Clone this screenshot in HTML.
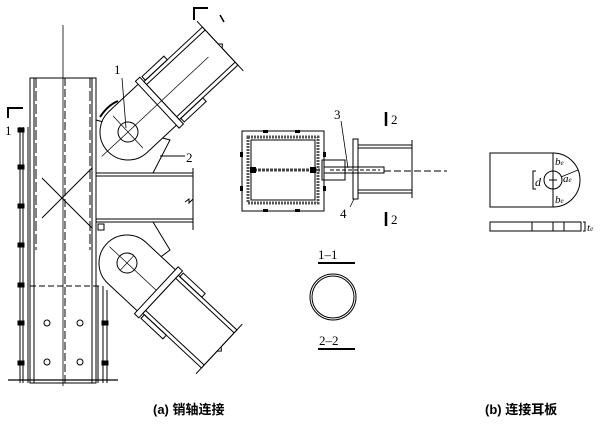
<!DOCTYPE html>
<html><head><meta charset="utf-8"><style>
html,body{margin:0;padding:0;background:#fff}
svg{display:block}
text{font-family:"Liberation Serif","Noto Serif CJK SC",serif;fill:#000}
.c{font-family:"Liberation Sans","Noto Sans CJK SC",sans-serif;font-weight:bold;font-size:13px}
</style></head><body>
<svg width="600" height="426" viewBox="0 0 600 426" xmlns="http://www.w3.org/2000/svg" fill="none" stroke="#000" stroke-width="1">
<!-- column -->
<rect x="30" y="78" width="66" height="305"/>
<line x1="34" y1="78" x2="34" y2="383"/>
<line x1="92" y1="78" x2="92" y2="383"/>
<line x1="63" y1="25" x2="63" y2="386" stroke-width="0.8"/>
<line x1="65" y1="78" x2="65" y2="383" stroke-dasharray="8,3"/>
<line x1="36" y1="78" x2="36" y2="250" stroke-dasharray="10,3"/>
<line x1="90" y1="78" x2="90" y2="250" stroke-dasharray="10,3"/>
<line x1="30" y1="286" x2="100" y2="286" stroke-dasharray="6,3"/>
<line x1="8" y1="380" x2="118" y2="380" stroke-width="1.2"/>
<!-- left strip -->
<line x1="20" y1="127" x2="20" y2="383"/><line x1="23" y1="127" x2="23" y2="383"/><line x1="28" y1="127" x2="28" y2="383"/>
<g fill="#000">
<rect x="18" y="128" width="6" height="4"/><rect x="18" y="165" width="6" height="4"/><rect x="18" y="204" width="6" height="4"/><rect x="18" y="243" width="6" height="4"/><rect x="18" y="283" width="6" height="4"/><rect x="18" y="321" width="6" height="4"/><rect x="18" y="361" width="6" height="4"/>
<rect x="102" y="321" width="6" height="4"/><rect x="102" y="361" width="6" height="4"/>
</g>
<line x1="98" y1="286" x2="98" y2="383"/><line x1="103" y1="286" x2="103" y2="383"/><line x1="107" y1="290" x2="107" y2="383"/>
<g><circle cx="47" cy="323" r="3"/><circle cx="80" cy="323" r="3"/><circle cx="47" cy="362" r="3"/><circle cx="80" cy="362" r="3"/></g>
<!-- section 1 marker -->
<path d="M8 118 V108 H23" stroke-width="2"/>
<text x="5" y="135" font-size="13" stroke="none">1</text>
<path d="M194 20 V8 H208" stroke-width="2"/>
<line x1="220" y1="15" x2="224" y2="22" stroke-width="1.5"/>
<!-- X in panel -->
<line x1="42" y1="178" x2="92" y2="228"/><line x1="42" y1="218" x2="92" y2="168"/>
<!-- beam -->
<line x1="96" y1="173" x2="193" y2="173"/><line x1="96" y1="176" x2="193" y2="176"/>
<line x1="96" y1="219" x2="193" y2="219"/><line x1="96" y1="222" x2="193" y2="222"/>
<line x1="193" y1="168" x2="193" y2="230"/>
<path d="M185 202 l4 -3 l0 4 l4 -4" />
<rect x="98" y="224" width="6" height="6"/>
<!-- gussets -->
<path d="M96 120 L170 140 L153 173" />
<path d="M153 222 L170 250 L150 265"/>
<path d="M100 117 q8 -12 18 -16" stroke-width="2"/>
<line x1="160" y1="156" x2="185" y2="156"/>
<text x="186" y="162" font-size="13" stroke="none">2</text>
<!-- upper brace -->
<g transform="translate(128,132) rotate(-43)">
<path d="M40 -28 H0 A28 28 0 0 0 0 28 H40" fill="#fff"/>
<rect x="40" y="-32" width="6" height="64" fill="#fff"/>
<rect x="46" y="-26" width="80" height="52" fill="#fff"/>
<line x1="46" y1="-22" x2="126" y2="-22"/><line x1="46" y1="22" x2="126" y2="22"/>
<rect x="48" y="-31" width="30" height="5"/><rect x="48" y="26" width="30" height="5"/>
<line x1="-36" y1="0" x2="110" y2="0" stroke-width="0.7"/>
<line x1="0" y1="-22" x2="0" y2="22" stroke-width="0.7"/>
<circle cx="0" cy="0" r="10" fill="none"/>
<path d="M126 -34 V-3 l3 3 l-3 3 V34"/>
</g>
<line x1="122" y1="78" x2="126" y2="128" stroke-width="0.8"/>
<text x="114" y="74" font-size="13" stroke="none">1</text>
<!-- lower brace -->
<g transform="translate(127,263) rotate(43)">
<path d="M40 -28 H0 A28 28 0 0 0 0 28 H40" fill="#fff"/>
<rect x="40" y="-32" width="6" height="64" fill="#fff"/>
<rect x="46" y="-26" width="80" height="52" fill="#fff"/>
<line x1="46" y1="-22" x2="126" y2="-22"/><line x1="46" y1="22" x2="126" y2="22"/>
<rect x="48" y="-31" width="30" height="5"/><rect x="48" y="26" width="30" height="5"/>
<line x1="-24" y1="0" x2="40" y2="0" stroke-width="0.7"/>
<line x1="0" y1="-10" x2="0" y2="10" stroke-width="0.7"/>
<circle cx="0" cy="0" r="10"/>
<path d="M126 -34 V-3 l3 3 l-3 3 V34"/>
</g>
<!-- section 1-1 -->
<rect x="242" y="131" width="82" height="80"/>
<rect x="248" y="137" width="70" height="66" stroke-width="3" stroke="#555" stroke-dasharray="2,1"/>
<rect x="251" y="140" width="64" height="60"/>
<line x1="250" y1="170" x2="320" y2="170" stroke-width="3" stroke="#444" stroke-dasharray="3,1"/>
<g fill="#000" stroke="none">
<rect x="263" y="130" width="5" height="3"/><rect x="295" y="130" width="5" height="3"/>
<rect x="263" y="209" width="5" height="3"/><rect x="295" y="209" width="5" height="3"/>
<rect x="240" y="152" width="3" height="5"/><rect x="240" y="186" width="3" height="5"/>
<rect x="323" y="152" width="3" height="5"/><rect x="323" y="186" width="3" height="5"/>
<rect x="250" y="167" width="6" height="6"/><rect x="310" y="167" width="6" height="6"/>
</g>
<rect x="322" y="160" width="23" height="20"/>
<rect x="324" y="167" width="60" height="6"/>
<line x1="330" y1="170" x2="380" y2="170" stroke-dasharray="4,2"/>
<rect x="353" y="139" width="5" height="60"/>
<line x1="358" y1="145" x2="412" y2="145"/><line x1="358" y1="148" x2="412" y2="148"/>
<line x1="358" y1="190" x2="412" y2="190"/><line x1="358" y1="193" x2="412" y2="193"/>
<line x1="412" y1="140" x2="412" y2="198"/>
<line x1="384" y1="171" x2="447" y2="171" stroke-dasharray="7,3"/>
<line x1="341" y1="121" x2="348" y2="168" stroke-width="0.8"/>
<text x="334" y="119" font-size="13" stroke="none">3</text>
<line x1="350" y1="207" x2="354" y2="199" stroke-width="0.8"/>
<text x="340" y="218" font-size="13" stroke="none">4</text>
<line x1="386" y1="112" x2="386" y2="126" stroke-width="2.5"/>
<text x="391" y="124" font-size="13" stroke="none">2</text>
<line x1="386" y1="212" x2="386" y2="226" stroke-width="2.5"/>
<text x="391" y="224" font-size="13" stroke="none">2</text>
<text x="318" y="259" font-size="13" stroke="none">1–1</text>
<line x1="318" y1="263" x2="355" y2="263" stroke-width="2"/>
<circle cx="333" cy="297" r="23"/><circle cx="333" cy="297" r="21"/>
<text x="319" y="345" font-size="13" stroke="none">2–2</text>
<line x1="318" y1="349" x2="355" y2="349" stroke-width="2"/>
<!-- (b) -->
<path d="M553 153 H490 V207 H553 A27 27 0 0 0 553 153 Z"/>
<line x1="553" y1="153" x2="553" y2="207"/>
<circle cx="553" cy="180" r="9"/>
<line x1="549" y1="180" x2="557" y2="180"/><line x1="553" y1="176" x2="553" y2="184"/>
<line x1="561" y1="177" x2="578" y2="170" stroke-width="0.7"/>
<path d="M536 171 h-3 v18 h3"/>
<text x="535" y="186" font-size="12" font-style="italic" stroke="none">d</text>
<text x="555" y="165" font-size="11" font-style="italic" stroke="none">b<tspan font-size="7">e</tspan></text>
<text x="563" y="182" font-size="11" font-style="italic" stroke="none">a<tspan font-size="7">e</tspan></text>
<text x="555" y="203" font-size="11" font-style="italic" stroke="none">b<tspan font-size="7">e</tspan></text>
<rect x="490" y="222" width="91" height="9"/>
<line x1="532" y1="222" x2="532" y2="231"/><line x1="553" y1="222" x2="553" y2="231"/><line x1="564" y1="222" x2="564" y2="231"/>
<path d="M583 222 h2 v9 h-2"/>
<text x="587" y="231" font-size="11" font-style="italic" stroke="none">t<tspan font-size="7">e</tspan></text>
<!-- captions -->
<text class="c" x="153" y="414" stroke="none">(a)  销轴连接</text>
<text class="c" x="485" y="414" stroke="none">(b)  连接耳板</text>
</svg>
</body></html>
